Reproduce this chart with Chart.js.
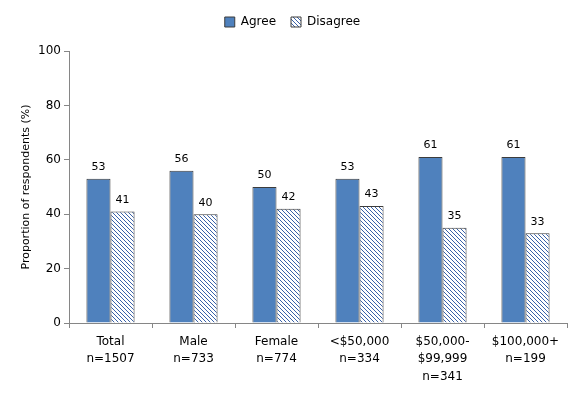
<!DOCTYPE html>
<html>
<head>
<meta charset="utf-8">
<script src="https://cdn.jsdelivr.net/npm/chart.js@4/dist/chart.umd.min.js"></script>
<style>
  html, body { margin: 0; padding: 0; background: #fff; }
  #wrap { width: 582px; height: 395px; }
</style>
</head>
<body>
<div id="wrap"><canvas id="chart"></canvas></div>
<script>
const categories = [
    ['Total', 'n=1507'],
    ['Male', 'n=733'],
    ['Female', 'n=774'],
    ['<$50,000', 'n=334'],
    ['$50,000-', '$99,999', 'n=341'],
    ['$100,000+', 'n=199']
]
const agree = [53, 56, 50, 53, 61, 61]
const disagree = [41, 40, 42, 43, 35, 33]
const yTicks = [0, 20, 40, 60, 80, 100]

const FONT = 'DejaVu Sans'

// diagonal hatch for the Disagree bars
const makeHatch = () => {
    let c = document.createElement('canvas')
    c.width = 4
    c.height = 4
    let g = c.getContext('2d')
    g.fillStyle = '#ffffff'
    g.fillRect(0, 0, 4, 4)
    g.fillStyle = '#3a62a8'
    for (let i = 0; i < 4; i++) {
        g.fillRect(i, i, 1, 1)
    }
    return g.createPattern(c, 'repeat')
}

// value labels above each bar
const valueLabels = {
    id: 'valueLabels',
    afterDatasetsDraw(chart) {
        let ctx = chart.ctx
        ctx.save()
        ctx.font = `11px "${FONT}"`
        ctx.fillStyle = '#000'
        ctx.textAlign = 'center'
        ctx.textBaseline = 'bottom'
        chart.data.datasets.forEach((ds, di) => {
            chart.getDatasetMeta(di).data.forEach((bar, i) => {
                ctx.fillText(ds.data[i], bar.x, bar.y - 6)
            })
        })
        ctx.restore()
    }
}

// extra room under the legend
const legendGap = {
    id: 'legendGap',
    beforeInit(chart) {
        const fit = chart.legend.fit
        chart.legend.fit = function () {
            fit.bind(chart.legend)()
            this.height += 13
        }
    }
}

const data = {
    labels: categories,
    datasets: [{
        label: 'Agree',
        data: agree,
        backgroundColor: '#4f81bd',
        borderColor: '#3c3c3c',
        borderWidth: 1
    }, {
        label: 'Disagree',
        data: disagree,
        backgroundColor: makeHatch(),
        borderColor: '#3c3c3c',
        borderWidth: 1
    }]
}

const config = {
    type: 'bar',
    data: data,
    options: {
        responsive: true,
        maintainAspectRatio: false,
        animation: false,
        layout: { padding: { top: 1, right: 15, left: 18, bottom: 0 } },
        datasets: {
            bar: { categoryPercentage: 0.58, barPercentage: 1 }
        },
        plugins: {
            legend: {
                position: 'top',
                labels: {
                    boxWidth: 10,
                    boxHeight: 10,
                    padding: 15,
                    color: '#000',
                    font: { family: FONT, size: 12 }
                }
            },
            tooltip: { enabled: false }
        },
        scales: {
            x: {
                grid: {
                    drawOnChartArea: false,
                    tickLength: 5,
                    color: '#868686'
                },
                border: { color: '#868686' },
                ticks: {
                    color: '#000',
                    padding: 5,
                    maxRotation: 0,
                    font: { family: FONT, size: 12, lineHeight: 1.46 }
                },
                afterFit: (s) => { s.height = 72 }
            },
            y: {
                min: 0,
                max: 100,
                afterBuildTicks: (s) => { s.ticks = yTicks.map(v => ({ value: v })) },
                grid: {
                    drawOnChartArea: false,
                    tickLength: 5,
                    color: '#868686'
                },
                border: { color: '#868686' },
                ticks: {
                    color: '#000',
                    padding: 3,
                    font: { family: FONT, size: 12 }
                },
                title: {
                    display: true,
                    text: 'Proportion of respondents (%)',
                    color: '#000',
                    padding: { top: 2, bottom: 0 },
                    font: { family: FONT, size: 11 }
                },
                afterFit: (s) => { s.width = 51 }
            }
        }
    },
    plugins: [valueLabels, legendGap]
}

let ctx = document.querySelector('#chart').getContext('2d')
const myChart = new Chart(ctx, config)
</script>
</body>
</html>
